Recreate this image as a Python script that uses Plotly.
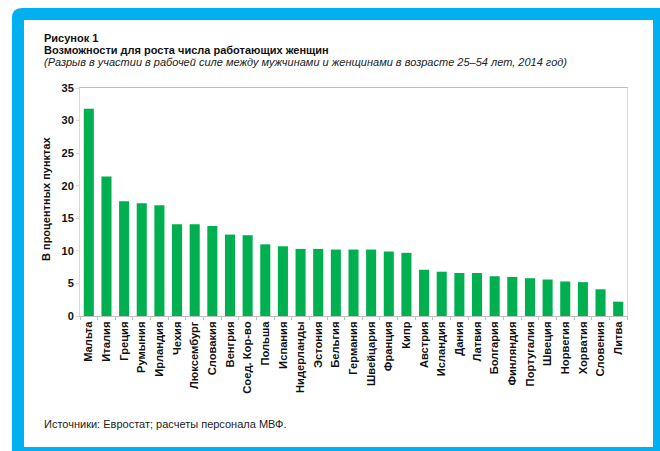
import plotly.graph_objects as go

countries = ["Мальта", "Италия", "Греция", "Румыния", "Ирландия", "Чехия", "Люксембург",
             "Словакия", "Венгрия", "Соед. Кор-во", "Польша", "Испания", "Нидерланды",
             "Эстония", "Бельгия", "Германия", "Швейцария", "Франция", "Кипр", "Австрия",
             "Исландия", "Дания", "Латвия", "Болгария", "Финляндия", "Португалия", "Швеция",
             "Норвегия", "Хорватия", "Словения", "Литва"]
gap = [31.8, 21.4, 17.6, 17.3, 17.0, 14.1, 14.1,
       13.8, 12.5, 12.4, 11.0, 10.7, 10.3,
       10.3, 10.2, 10.2, 10.2, 9.9, 9.7, 7.1,
       6.8, 6.6, 6.6, 6.1, 6.0, 5.8, 5.6,
       5.3, 5.2, 4.1, 2.2]
y_ticks = [0, 5, 10, 15, 20, 25, 30, 35]

W, H = 660, 451
L, R, T, B = 80, 627, 88, 316
pw, ph = R - L, B - T

def px(x):
    return (x - L) / pw

def py(y):
    return (B - y) / ph

FONT = "Liberation Sans, Arial, sans-serif"
BLUE = "#00B0F0"
GREEN = "#00B050"

fig = go.Figure(go.Bar(x=countries, y=gap, marker=dict(color=GREEN, line=dict(width=0)),
                       hoverinfo="x+y"))

shapes = []
# outer blue frame with rounded top-left corner
r = 10
x0, y0, x1, y1 = 12, 8, 680, 470
path = (f"M {px(x0)},{py(y0 + r)} Q {px(x0)},{py(y0)} {px(x0 + r)},{py(y0)} "
        f"L {px(x1)},{py(y0)} L {px(x1)},{py(y1)} L {px(x0)},{py(y1)} Z")
shapes.append(dict(type="path", xref="paper", yref="paper", path=path,
                   fillcolor=BLUE, line=dict(width=0), layer="below"))
shapes.append(dict(type="rect", xref="paper", yref="paper",
                   x0=px(24), x1=px(653), y0=py(20), y1=py(447),
                   fillcolor="white", line=dict(width=0), layer="below"))

annotations = [
    dict(text="<b>Рисунок 1</b>", x=px(42), y=py(38), xref="paper", yref="paper",
         xanchor="left", yanchor="middle", showarrow=False,
         font=dict(family=FONT, size=11, color="#111")),
    dict(text="<b>Возможности для роста числа работающих женщин</b>", x=px(42), y=py(50),
         xref="paper", yref="paper", xanchor="left", yanchor="middle", showarrow=False,
         font=dict(family=FONT, size=11, color="#111")),
    dict(text="<i>(Разрыв в участии в рабочей силе между мужчинами и женщинами в возрасте 25–54 лет, 2014 год)</i>",
         x=px(42), y=py(62), xref="paper", yref="paper", xanchor="left", yanchor="middle",
         showarrow=False, font=dict(family=FONT, size=11, color="#222")),
    dict(text="Источники: Евростат; расчеты персонала МВФ.", x=px(42), y=py(424),
         xref="paper", yref="paper", xanchor="left", yanchor="middle", showarrow=False,
         font=dict(family=FONT, size=11, color="#222")),
    dict(text="<b>В процентных пунктах</b>", x=px(46), y=py(199), xref="paper", yref="paper",
         xanchor="center", yanchor="middle", showarrow=False, textangle=-90,
         font=dict(family=FONT, size=11, color="#111")),
]

fig.update_layout(
    width=W, height=H,
    margin=dict(l=L, r=W - R, t=T, b=H - B, pad=0),
    paper_bgcolor="white", plot_bgcolor="white",
    showlegend=False, bargap=0.43,
    shapes=shapes, annotations=annotations,
    font=dict(family=FONT, color="#111"),
)
fig.update_xaxes(
    type="category", tickangle=-90, showgrid=False,
    showline=True, linecolor="#BFBFBF", linewidth=1, mirror=True,
    ticks="outside", tickson="boundaries", ticklen=3, tickcolor="#BFBFBF",
    tickfont=dict(family=FONT, size=11.2, color="#111", weight="bold"),
)
fig.update_yaxes(
    range=[0, 35], tickvals=y_ticks, showgrid=False, zeroline=False,
    showline=True, linecolor="#D9D9D9", linewidth=1, mirror=True,
    ticks="outside", ticklen=3, tickcolor="#D9D9D9",
    tickfont=dict(family=FONT, size=11, color="#111", weight="bold"),
)

fig.write_html("out.html", config={"displayModeBar": False},
               post_script="document.body.style.margin='0';")
